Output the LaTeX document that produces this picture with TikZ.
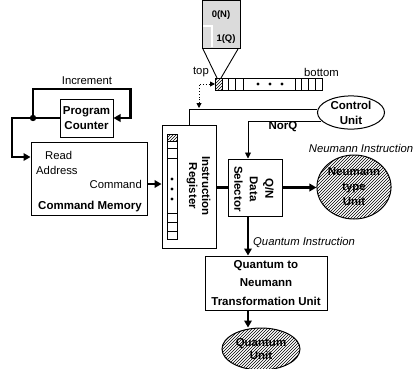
\documentclass[tikz,border=0pt]{standalone}
\usepackage{fontspec}
\setmainfont{Liberation Sans}
\usetikzlibrary{patterns,arrows.meta,shapes.geometric,calc}
\begin{document}
\begin{tikzpicture}[x=1pt,y=-1pt,
  box/.style={draw, line width=1pt, fill=white, align=center, inner sep=0pt,
    font=\bfseries\fontsize{11.5}{15}\selectfont},
  ell/.style={ellipse, draw, line width=1pt, align=center, inner sep=0pt,
    font=\bfseries\fontsize{11.5}{15}\selectfont},
  hatch/.style={pattern=north east lines},
  lbl/.style={font=\fontsize{11.3}{14}\selectfont, inner sep=0pt},
  blbl/.style={font=\bfseries\fontsize{11.5}{14}\selectfont, inner sep=0pt},
  ilbl/.style={font=\itshape\fontsize{11.3}{14}\selectfont, inner sep=0pt},
  thk/.style={line width=2.6pt},
  thn/.style={line width=0.9pt},
  bigtip/.style={-{Triangle[length=7pt,width=7.5pt]}},
  smalltip/.style={-{Triangle[length=6pt,width=6pt]}},
]
\useasboundingbox (0,0) rectangle (415,368);

% ---- stack (top) ----
\fill[gray!28] (202,0) rectangle (240,48);
\draw[line width=0.8pt] (202,0) rectangle (240,48);
\draw[white, line width=1.2pt] (203,26) -- (212,26) -- (212,47);
\node[blbl, font=\bfseries\fontsize{9.5}{11}\selectfont] (qn0) at (221,15) {0(N)};
\node[blbl, font=\bfseries\fontsize{9.5}{11}\selectfont] (qn1) at (226,39) {1(Q)};
\coordinate (fl) at (203,49);
\coordinate (fr) at (238,49);
\draw[line width=0.8pt] (215,78) rectangle (322,90);
\fill[pattern=north east lines] (215,78) rectangle (222,90);
\foreach \x in {222,228,235,243,295,301,308,315}
  \draw[line width=0.8pt] (\x,78) -- (\x,90);
\foreach \x in {258,270,282} \fill (\x,84) circle (1.6);
\coordinate (stk) at (215,84);
\coordinate (stkt) at (217,78);
\coordinate (stkt2) at (221,78);
\draw[line width=0.9pt] (fl) -- (stkt);
\draw[line width=0.9pt] (fr) -- (stkt2);
\node[lbl, anchor=east] (top) at (209,72) {top};
\node[lbl, anchor=west] (bot) at (304,72) {bottom};

% ---- left side ----
\node[box, minimum width=53pt, minimum height=38pt] (pc) at (86.5,118) {Program\\Counter};
\node[draw, line width=1pt, minimum width=116pt, minimum height=73pt, inner sep=0pt] (cm) at (89,178.5) {};
\node[lbl, anchor=west] (read) at (45,155) {Read};
\node[lbl, anchor=west] (addr) at (36,170) {Address};
\node[lbl, anchor=east] (cmd) at (142,184) {Command};
\node[blbl] (cmm) at (90,207) {Command Memory};
\node[lbl] (inc) at (87,81) {Increment};
\coordinate (j) at (33,118);
\draw[thk] (pc.west) -- (j);
\fill (j) circle (3.2);
\draw[thk, bigtip] (j) -- ++(0,-29) -| ($(pc.east)+(17,0)$) -- (pc.east);
\draw[thk, bigtip] (j) -- ++(-21,0) |- (cm.west |- 0,157);

% ---- instruction register ----
\node[draw, line width=0.9pt, minimum width=54pt, minimum height=123pt, inner sep=0pt] (ir) at (189,186.5) {};
\draw[line width=0.8pt] (167,134) rectangle (177,239);
\fill[pattern=north east lines] (167,134) rectangle (177,141);
\foreach \y in {141,148,158,213,222,231}
  \draw[line width=0.8pt] (167,\y) -- (177,\y);
\foreach \y in {179,189,199} \fill (172,\y) circle (1.6);
\node[rotate=-90, align=center, font=\bfseries\fontsize{11.5}{13}\selectfont] (irl) at (198.5,186) {Instruction\\Register};
\draw[thk, bigtip] (cmd.east -| cm.east) -- (cmd.east -| ir.west);

% ---- selector and control ----
\node[box, minimum width=54pt, minimum height=57pt] (sel) at (255,187.5) {};
\node[rotate=-90, align=center, font=\bfseries\fontsize{11.5}{15.5}\selectfont] (sell) at (254,189) {Q/N\\Data\\Selector};
\node[ell, minimum width=67pt, minimum height=31pt] (cu) at (351,112.5) {Control\\Unit};
\draw[thn] ($(cu.west)+(0,-3)$) -| (ir.north);
\draw[thn, dotted, {Triangle[length=5pt,width=5pt]}-{Triangle[length=5pt,width=5pt]}] (199,108) -- (199,84) -- (stk);
\draw[thn, smalltip] (cu.196) -| ([xshift=-7pt]sel.north);
\node[blbl] (norq) at (283,127) {NorQ};
\draw[thk] (sel.west -| ir.east) -- (sel.west);

% ---- neumann unit ----
\node[ell, hatch, minimum width=72pt, minimum height=64pt] (neu) at (354,187) {Neumann\\type\\Unit};
\node[ilbl] (neul) at (361,148) {Neumann Instruction};
\draw[thk, bigtip] (sel.east) -- (sel.east -| neu.west);

% ---- quantum path ----
\node[box, minimum width=122pt, minimum height=54pt, font=\bfseries\fontsize{11.5}{18.5}\selectfont] (tr) at (266,283) {Quantum to\\Neumann\\Transformation Unit};
\draw[thk, bigtip] ([xshift=-7pt]sel.south) -- ([xshift=-7pt]sel.south |- tr.north);
\node[ilbl, anchor=west] (qil) at (253,242) {Quantum Instruction};
\node[ell, hatch, minimum width=78pt, minimum height=42pt, font=\bfseries\fontsize{11.5}{13}\selectfont] (qu) at (261,349) {Quantum\\Unit};
\draw[thk, bigtip] (tr.south -| 248,0) -- (248,327.5);
\end{tikzpicture}
\end{document}
